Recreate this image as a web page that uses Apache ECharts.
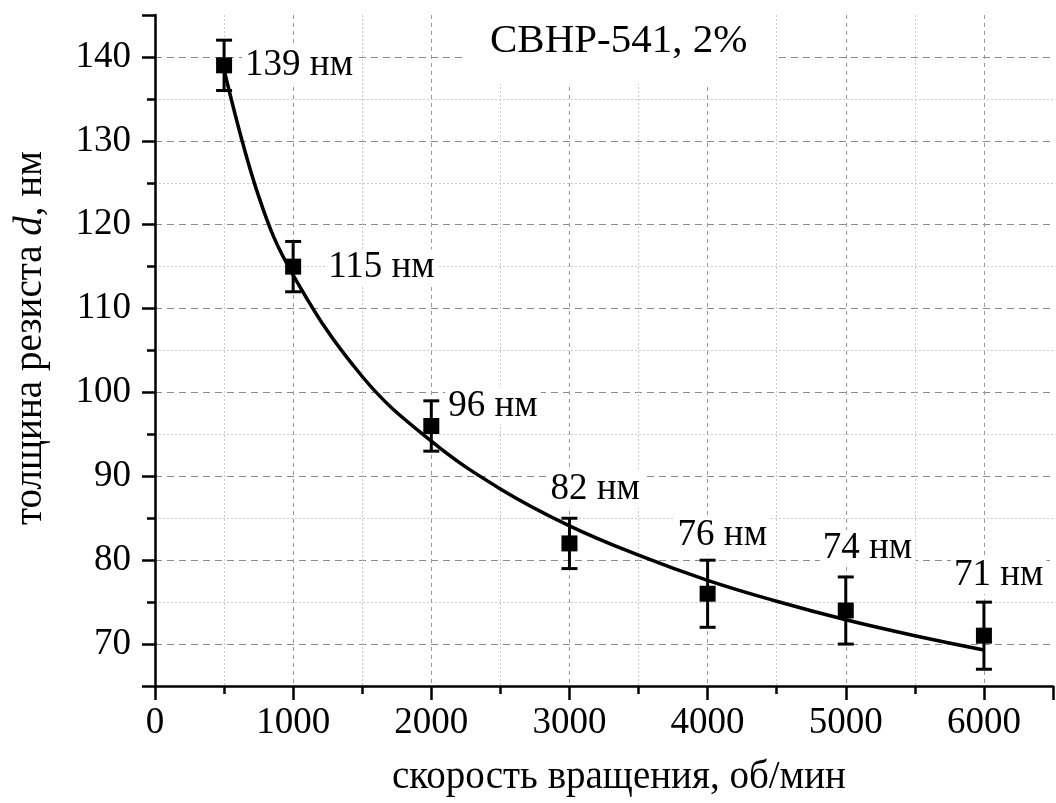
<!DOCTYPE html>
<html>
<head>
<meta charset="utf-8">
<script src="https://cdn.jsdelivr.net/npm/echarts@6/dist/echarts.min.js"></script>
<style>
html,body{margin:0;padding:0;background:#fff;}
#chart{width:1056px;height:803px;}
</style>
</head>
<body>
<div id="chart"></div>
<script>
// ---- data ----
var speeds = [500, 1000, 2000, 3000, 4000, 5000, 6000];      // об/мин
var thickness = [139, 115, 96, 82, 76, 74, 71];               // нм
var errors = [3, 3, 3, 3, 4, 4, 4];                           // нм
var fitX = [500, 750, 1000, 1500, 2000, 2500, 3000, 3500, 4000, 4500, 5000, 5500, 6000];
var fitY = [138.5, 123.4, 114.0, 101.9, 94.2, 88.5, 84.1, 80.6, 77.6, 75.1, 72.9, 71.0, 69.3];
var titleText = 'СВНР-541, 2%';
var xName = 'скорость вращения, об/мин';
var unit = ' нм';

// ---- layout (label offsets relative to point centre, px) ----
var labelOffsets = [[18, 0], [32, 1], [14, -20], [-22, -54], [-33, -58], [-26, -62], [-33, -60]];

var FONT = "'Liberation Serif', 'Times New Roman', serif";
var SYM = 16;

var scatterData = speeds.map(function (x, i) {
  var o = labelOffsets[i];
  return {
    value: [x, thickness[i]],
    label: {
      position: [o[0] + SYM / 2, o[1] + SYM / 2]
    }
  };
});
var errData = speeds.map(function (x, i) {
  return [x, thickness[i] - errors[i], thickness[i] + errors[i]];
});
var fitData = fitX.map(function (x, i) { return [x, fitY[i]]; });

var chart = echarts.init(document.getElementById('chart'), null, {renderer: 'canvas'});
var option = {
  backgroundColor: '#ffffff',
  animation: false,
  textStyle: {fontFamily: FONT},
  title: {
    text: titleText,
    left: 463,
    top: 13,
    padding: [8, 27, 22, 27],
    backgroundColor: '#ffffff',
    textStyle: {fontFamily: FONT, fontSize: 41, fontWeight: 'normal', color: '#000'}
  },
  grid: {left: 155, right: 0, top: 15, bottom: 117, containLabel: false},
  xAxis: {
    type: 'value',
    min: 0,
    max: 6500,
    splitNumber: 6,
    name: xName,
    nameLocation: 'middle',
    nameGap: 72,
    nameTextStyle: {fontFamily: FONT, fontSize: 39, color: '#000', padding: [0, 0, 0, 30]},
    axisLine: {show: true, onZero: false, lineStyle: {color: '#000', width: 2.5}},
    axisTick: {show: true, inside: false, length: 14, lineStyle: {color: '#000', width: 2.5}},
    minorTick: {show: true, splitNumber: 2, length: 8, lineStyle: {color: '#000', width: 2.5}},
    axisLabel: {
      margin: 19, fontFamily: FONT, fontSize: 37, color: '#000',
      formatter: function (v) { return v % 1000 === 0 ? String(v) : ''; }
    },
    splitLine: {show: true, showMinLine: false, showMaxLine: false, lineStyle: {color: '#9a9a9a', width: 1, type: [4, 4]}},
    minorSplitLine: {show: true, lineStyle: {color: '#c8c8c8', width: 1, type: [2, 2]}}
  },
  yAxis: {
    type: 'value',
    min: 65,
    max: 145,
    splitNumber: 8,
    name: 'толщина резиста {i|d}, нм',
    nameLocation: 'middle',
    nameGap: 105,
    nameRotate: 90,
    nameTextStyle: {
      fontFamily: FONT, fontSize: 39, color: '#000', padding: [0, 0, 0, 25],
      rich: {i: {fontFamily: FONT, fontSize: 39, fontStyle: 'italic', color: '#000'}}
    },
    axisLine: {show: true, onZero: false, lineStyle: {color: '#000', width: 2.5}},
    axisTick: {show: true, inside: false, length: 13, lineStyle: {color: '#000', width: 2.5}},
    minorTick: {show: true, splitNumber: 2, length: 8, lineStyle: {color: '#000', width: 2.5}},
    axisLabel: {
      margin: 24, fontFamily: FONT, fontSize: 37, color: '#000',
      formatter: function (v) { return v % 10 === 0 ? String(v) : ''; }
    },
    splitLine: {show: true, showMinLine: false, showMaxLine: false, lineStyle: {color: '#8a8a8a', width: 1, type: [7, 5]}},
    minorSplitLine: {show: true, lineStyle: {color: '#c8c8c8', width: 1, type: [2, 2]}}
  },
  series: [
    {
      type: 'line',
      data: fitData,
      smooth: 0.4,
      showSymbol: false,
      symbol: 'none',
      lineStyle: {color: '#000', width: 3.5},
      z: 3,
      silent: true
    },
    {
      type: 'custom',
      data: errData,
      z: 4,
      silent: true,
      renderItem: function (params, api) {
        var x = api.value(0);
        var lo = api.coord([x, api.value(1)]);
        var hi = api.coord([x, api.value(2)]);
        var cap = 8;
        var style = {stroke: '#000', lineWidth: 3, fill: null};
        return {
          type: 'group',
          children: [
            {type: 'line', shape: {x1: lo[0], y1: lo[1], x2: hi[0], y2: hi[1]}, style: style},
            {type: 'line', shape: {x1: lo[0] - cap, y1: lo[1], x2: lo[0] + cap, y2: lo[1]}, style: style},
            {type: 'line', shape: {x1: hi[0] - cap, y1: hi[1], x2: hi[0] + cap, y2: hi[1]}, style: style}
          ]
        };
      }
    },
    {
      type: 'scatter',
      data: scatterData,
      symbol: 'rect',
      symbolSize: SYM,
      itemStyle: {color: '#000', opacity: 1},
      z: 5,
      label: {
        show: true,
        align: 'left',
        verticalAlign: 'middle',
        fontFamily: FONT,
        fontSize: 37,
        color: '#000',
        opacity: 1,
        backgroundColor: '#fff',
        padding: [0, 3, 0, 3],
        formatter: function (p) { return p.value[1] + unit; }
      }
    }
  ]
};
chart.setOption(option);
</script>
</body>
</html>
